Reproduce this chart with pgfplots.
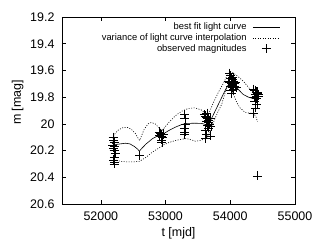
\documentclass[border=0pt]{standalone}
\usepackage{fontspec}
\setmainfont{Liberation Sans}
\usepackage{pgfplots}
\pgfplotsset{compat=1.18}
\pgfplotsset{
  linelegend/.style={legend image code/.code={\draw[##1] (0bp,0bp) -- (27bp,0bp);}},
  marklegend/.style={legend image code/.code={\draw[mark repeat=2,mark phase=2,##1] plot coordinates {(0bp,0bp) (13.5bp,0bp) (27bp,0bp)};}},
}
\begin{document}
\begin{tikzpicture}
\begin{axis}[
  scale only axis,
  width=233bp, height=187bp,
  xmin=51400, xmax=55000,
  ymin=19.2, ymax=20.6,
  y dir=reverse,
  xtick={52000,53000,54000,55000},
  ytick={19.2,19.4,19.6,19.8,20,20.2,20.4,20.6},
  scaled x ticks=false,
  /pgf/number format/assume math mode=true,
  /pgf/number format/set thousands separator={},
  yticklabel style={/pgf/number format/fixed,/pgf/number format/precision=1, xshift=-4bp},
  xticklabel style={/pgf/number format/fixed,/pgf/number format/precision=0, yshift=-4bp},
  tick label style={font=\fontsize{12.5}{14}\selectfont},
  label style={font=\fontsize{12.5}{14}\selectfont},
  xlabel={t [mjd]},
  ylabel={m [mag]},
  ylabel style={xshift=8bp},
  tick align=inside,
  major tick length=4bp,
  axis line style={line width=0.9pt},
  every tick/.style={black, line width=0.6pt},
  legend plot pos=right,
  legend cell align=right,
  legend style={draw=none, fill=none, at={(0.95,0.99)}, anchor=north east,
    font=\fontsize{9.4}{11}\selectfont, row sep=-1.5bp,
    /tikz/every odd column/.append style={column sep=4bp}},
  linelegend,
]
\coordinate (ll) at (axis cs:51400,20.6);
\coordinate (ur) at (axis cs:55000,19.2);
\addplot[black, line width=0.6pt] coordinates {
(52180,20.165) (52230,20.155) (52300,20.15) (52380,20.145) (52450,20.15)
(52520,20.17) (52570,20.19) (52595,20.205) (52620,20.19) (52700,20.15)
(52800,20.11) (52900,20.085) (52950,20.08) (53050,20.05) (53150,20.025)
(53250,20.005) (53320,19.997) (53450,19.995) (53560,19.997) (53620,20.005)
(53660,20.01) (53700,19.97) (53780,19.89) (53860,19.81) (53930,19.74)
(53980,19.70) (54020,19.69) (54060,19.70) (54120,19.74) (54200,19.78)
(54280,19.80) (54350,19.81) (54420,19.80)
};
\addlegendentry{best fit light curve}
\addplot[black, line width=0.6pt, dash pattern=on 1bp off 1.5bp] coordinates {
(52180,20.15) (52190,20.11) (52210,20.08) (52260,20.05) (52330,20.03)
(52400,20.025) (52470,20.04) (52530,20.07) (52580,20.11) (52600,20.125)
(52620,20.10) (52670,20.04) (52730,20.00) (52780,19.99) (52840,20.00)
(52900,20.03) (52945,20.05) (52980,20.03) (53050,19.99) (53150,19.94)
(53250,19.905) (53350,19.885) (53450,19.88) (53550,19.895) (53610,19.92)
(53645,19.935) (53680,19.91) (53740,19.84) (53820,19.76) (53900,19.69)
(53960,19.63) (54000,19.61) (54050,19.62) (54130,19.65) (54200,19.68)
(54270,19.72) (54330,19.755) (54380,19.765) (54420,19.76)
};
\addlegendentry{variance of light curve interpolation}
\addplot[black, line width=0.6pt, dash pattern=on 1bp off 1.5bp, forget plot] coordinates {
(52180,20.25) (52220,20.27) (52300,20.28) (52400,20.285) (52500,20.285)
(52600,20.28) (52700,20.25) (52800,20.21) (52900,20.18) (52960,20.16)
(53050,20.14) (53150,20.125) (53250,20.115) (53320,20.11) (53400,20.12)
(53460,20.13) (53530,20.125) (53590,20.115) (53640,20.10) (53690,20.05)
(53730,20.0) (53800,19.92) (53870,19.85) (53930,19.75) (53975,19.70)
(54010,19.72) (54050,19.78) (54100,19.84) (54150,19.88) (54230,19.915)
(54300,19.92) (54360,19.92) (54400,19.95) (54420,19.985)
};
\addplot[black, only marks, mark=+, mark size=4.5bp, mark options={line width=0.6pt}, marklegend] coordinates {
(52190,20.10) (52200,20.12) (52210,20.14) (52185,20.16) (52215,20.17)
(52195,20.18) (52205,20.20) (52220,20.22) (52210,20.25) (52200,20.27)
(52215,20.29) (52205,20.30)
(52600,20.234)
(52900,20.06) (52920,20.07) (52940,20.08) (52960,20.08) (52930,20.09)
(52950,20.10) (52935,20.12) (52945,20.14) (52910,20.085) (52970,20.075)
(53295,19.93) (53300,19.96) (53305,20.0) (53290,20.03) (53300,20.06) (53295,20.08)
(53600,19.93) (53620,19.94) (53640,19.95) (53650,19.96) (53660,19.97)
(53630,19.98) (53670,19.99) (53680,20.0) (53650,20.01) (53690,19.96)
(53700,20.02) (53610,20.05) (53630,20.08) (53620,20.11) (53690,20.09)
(53660,20.03) (53640,19.92)
(53990,19.62) (54000,19.64) (54010,19.66) (54030,19.67) (54050,19.68)
(53990,19.69) (54020,19.70) (54060,19.70) (54040,19.71) (54000,19.72)
(54070,19.72) (54030,19.73) (54050,19.74) (54010,19.75) (53970,19.68)
(54080,19.69) (54020,19.77) (54040,19.65) (54090,19.73)
(54360,19.74) (54380,19.75) (54400,19.76) (54420,19.77) (54390,19.78)
(54410,19.79) (54370,19.80) (54430,19.78) (54400,19.81) (54380,19.83)
(54410,19.85) (54390,19.88) (54360,19.92) (54420,19.76) (54440,19.79)
(54420,20.39)
};
\addlegendentry{observed magnitudes}
\end{axis}
\pgfresetboundingbox
\path ([shift={(-62bp,-46bp)}]ll) rectangle ([shift={(25bp,17bp)}]ur);
\end{tikzpicture}
\end{document}
